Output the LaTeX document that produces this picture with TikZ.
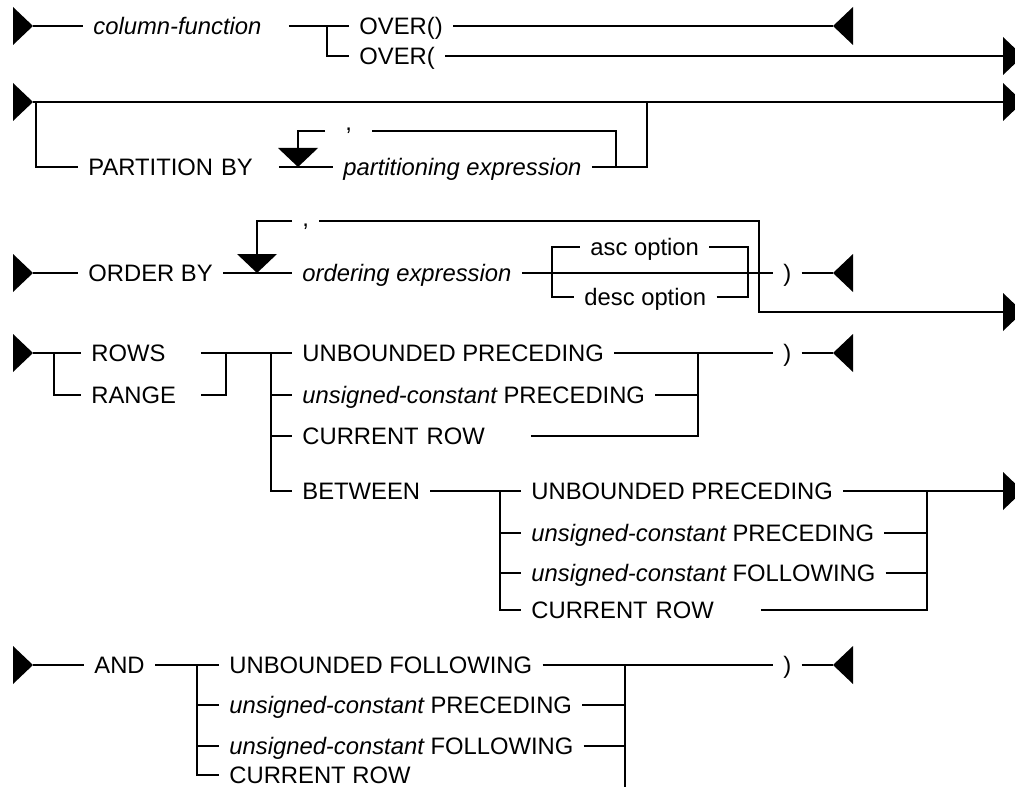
\documentclass[tikz,border=0pt]{standalone}
\usepackage{fontspec}
\setmainfont{Liberation Sans}
\usetikzlibrary{positioning,calc}

\begin{document}
\begin{tikzpicture}[
    x=0.5pt, y=-0.5pt,
    lbl/.style={anchor=west, inner xsep=5pt, inner ysep=0pt, text height=8.5pt, text depth=0pt, font=\fontsize{11.9}{14}\selectfont},
    var/.style={lbl, font=\fontsize{11.9}{14}\selectfont\itshape},
    sep/.style={lbl, text height=0pt},
    rail/.style={line width=0.55pt, draw=black}
  ]
  \useasboundingbox (0,0) rectangle (1015,786);
  \clip (0,0) rectangle (1015,786);
  \fill[white] (0,0) rectangle (1015,786);

  % entry, exit and continuation marks
  \foreach \n/\y in {in1/26, in2/102, in3/273, in4/353, in5/665} {
    \coordinate (\n) at (33,\y);
    \fill (\n) -- ++(-20,-19) -- ++(0,38) -- cycle;
  }
  \foreach \n/\y in {out1/26, out3/273, out4/353, out5/665} {
    \coordinate (\n) at (833,\y);
    \fill (\n) -- ++(20,-19) -- ++(0,38) -- cycle;
  }
  \foreach \n/\y in {cont1/56, cont2/102, cont3/312, cont4/491} {
    \coordinate (\n) at (1003,\y);
    \fill (\n) -- ++(0,-19) -- ++(20,19) -- ++(-20,19) -- cycle;
  }

  % column-function OVER
  \node[var, text width=92.5pt] (colfn) at (83,26) {column-function};
  \node[lbl] (over1) at (349,26) {OVER()};
  \node[lbl] (over2) at (349,56) {OVER(};
  \coordinate (j1) at (327,26);
  \draw[rail] (in1) -- (colfn.west);
  \draw[rail] (colfn.east) -- (over1.west);
  \draw[rail] (j1) |- (over2.west);
  \draw[rail] (over1.east) -- (out1);
  \draw[rail] (over2.east) -- (cont1);

  % PARTITION BY
  \node[lbl, text width=90pt] (part) at (78,167) {PARTITION BY};
  \node[var] (pexpr) at (333,167) {partitioning expression};
  \node[sep, inner xsep=10pt] (comma1) at (325,131) {,};
  \coordinate (j2) at (36,102);
  \coordinate (rep1) at (298,167);
  \coordinate (j3) at (616,167);
  \coordinate (j4) at (647,102);
  \draw[rail] (in2) -- (cont2);
  \draw[rail] (j2) |- (part.west);
  \draw[rail] (part.east) -- (pexpr.west);
  \draw[rail] (pexpr.east) -| (j4);
  \draw[rail] (comma1.east) -| (j3);
  \draw[rail] (comma1.west) -| (rep1);
  \fill (rep1) -- ++(-20,-19) -- ++(40,0) -- cycle;

  % ORDER BY
  \node[lbl] (order) at (78,273) {ORDER BY};
  \node[var] (oexpr) at (292,273) {ordering expression};
  \node[sep, text height=5pt] (comma2) at (292,221) {,};
  \node[lbl] (asc) at (580,247) {asc option};
  \node[lbl] (desc) at (574,297) {desc option};
  \node[lbl] (close1) at (773,273) {)};
  \coordinate (rep2) at (257,273);
  \coordinate (j5) at (552,273);
  \coordinate (j6) at (748,273);
  \coordinate (j7) at (759,312);
  \draw[rail] (in3) -- (order.west);
  \draw[rail] (order.east) -- (oexpr.west);
  \draw[rail] (oexpr.east) -- (close1.west);
  \draw[rail] (close1.east) -- (out3);
  \draw[rail] (j5) |- (asc.west);
  \draw[rail] (j5) |- (desc.west);
  \draw[rail] (asc.east) -| (j6);
  \draw[rail] (desc.east) -| (j6);
  \draw[rail] (comma2.west) -| (rep2);
  \draw[rail] (comma2.east) -| (j7) -- (cont3);
  \fill (rep2) -- ++(-20,-19) -- ++(40,0) -- cycle;

  % ROWS / RANGE
  \node[lbl, text width=49.5pt] (rows) at (81,353) {ROWS};
  \node[lbl, text width=49.5pt] (range) at (81,395) {RANGE};
  \node[lbl] (ubp1) at (292,353) {UNBOUNDED PRECEDING};
  \node[lbl] (ucp1) at (292,395) {\itshape unsigned-constant \upshape PRECEDING};
  \node[lbl, text width=109pt] (cr1) at (292,436) {CURRENT ROW};
  \node[lbl] (betw) at (292,491) {BETWEEN};
  \node[lbl] (close2) at (773,353) {)};
  \coordinate (j8) at (54,353);
  \coordinate (j9) at (226,353);
  \coordinate (j10) at (271,353);
  \coordinate (j11) at (698,353);
  \draw[rail] (in4) -- (rows.west);
  \draw[rail] (j8) |- (range.west);
  \draw[rail] (rows.east) -- (ubp1.west);
  \draw[rail] (j9) |- (range.east);
  \draw[rail] (j10) |- (ucp1.west);
  \draw[rail] (j10) |- (cr1.west);
  \draw[rail] (j10) |- (betw.west);
  \draw[rail] (ubp1.east) -- (close2.west);
  \draw[rail] (close2.east) -- (out4);
  \draw[rail] (ucp1.east) -| (j11);
  \draw[rail] (cr1.east) -| (j11);

  % BETWEEN bounds
  \node[lbl] (ubp2) at (521,491) {UNBOUNDED PRECEDING};
  \node[lbl] (ucp2) at (521,533) {\itshape unsigned-constant \upshape PRECEDING};
  \node[lbl] (ucf2) at (521,573) {\itshape unsigned-constant \upshape FOLLOWING};
  \node[lbl, text width=109.5pt] (cr2) at (521,610) {CURRENT ROW};
  \coordinate (j12) at (500,491);
  \coordinate (j13) at (927,491);
  \draw[rail] (betw.east) -- (ubp2.west);
  \draw[rail] (j12) |- (ucp2.west);
  \draw[rail] (j12) |- (ucf2.west);
  \draw[rail] (j12) |- (cr2.west);
  \draw[rail] (ubp2.east) -- (cont4);
  \draw[rail] (ucp2.east) -| (j13);
  \draw[rail] (ucf2.east) -| (j13);
  \draw[rail] (cr2.east) -| (j13);

  % AND bound
  \node[lbl] (and) at (84,665) {AND};
  \node[lbl] (ubf) at (219,665) {UNBOUNDED FOLLOWING};
  \node[lbl] (ucp3) at (219,705) {\itshape unsigned-constant \upshape PRECEDING};
  \node[lbl] (ucf3) at (219,746) {\itshape unsigned-constant \upshape FOLLOWING};
  \node[lbl] (cr3) at (219,775) {CURRENT ROW};
  \node[lbl] (close3) at (773,665) {)};
  \coordinate (j14) at (197,665);
  \coordinate (j15) at (625,665);
  \coordinate (j16) at (625,790);
  \draw[rail] (in5) -- (and.west);
  \draw[rail] (and.east) -- (ubf.west);
  \draw[rail] (j14) |- (ucp3.west);
  \draw[rail] (j14) |- (ucf3.west);
  \draw[rail] (j14) |- (cr3.west);
  \draw[rail] (ubf.east) -- (close3.west);
  \draw[rail] (close3.east) -- (out5);
  \draw[rail] (j15) -- (j16);
  \draw[rail] (ucp3.east) -| (j15);
  \draw[rail] (ucf3.east) -| (j15);
\end{tikzpicture}
\end{document}
